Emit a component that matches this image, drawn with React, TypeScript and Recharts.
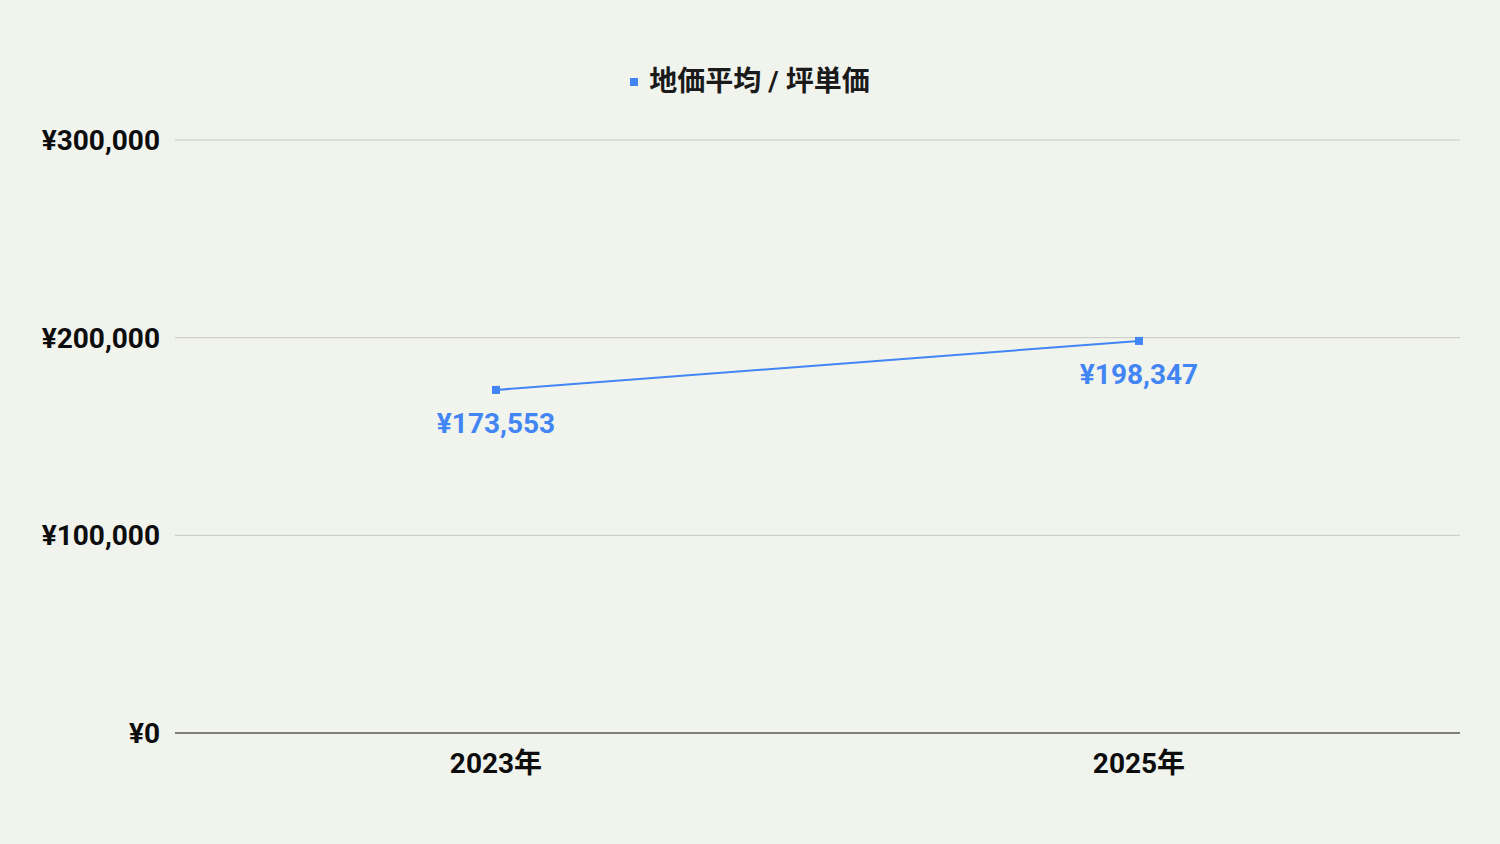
import React from "react";
import { LineChart, Line, XAxis, YAxis, CartesianGrid, Legend, LabelList } from "recharts";

const categories = ["2023年", "2025年"];
const values = [173553, 198347];
const yTicks = [0, 100000, 200000, 300000];
const seriesName = "地価平均 / 坪単価";

const data = categories.map((c, i) => ({ name: c, value: values[i] }));

const BLUE = "#4285f4";
const FONT = "Roboto, 'Noto Sans CJK JP', sans-serif";
const yen = (v: number) => "¥" + v.toLocaleString("en-US");

const SquareDot = (props: any) => {
  const { cx, cy } = props;
  if (cx == null || cy == null) return null;
  return <rect x={cx - 4} y={cy - 4} width={8} height={8} fill={BLUE} />;
};

const LegendContent = () => (
  <div style={{ display: "flex", alignItems: "center", justifyContent: "center", fontFamily: FONT }}>
    <span style={{ width: 8, height: 8, background: BLUE, display: "inline-block", marginRight: 11 }} />
    <span style={{ fontSize: 28, fontWeight: 700, color: "#1a1a1a", lineHeight: "36px" }}>{seriesName}</span>
  </div>
);

export default function App() {
  return (
    <div style={{ position: "fixed", left: 0, top: 0, width: 1500, height: 844, background: "#f1f3ed" }}>
      <LineChart width={1500} height={844} data={data} margin={{ top: 140, right: 40, bottom: 81, left: 0 }}>
        <CartesianGrid vertical={false} stroke="#c8c9c5" strokeWidth={1} />
        <XAxis
          dataKey="name"
          height={30}
          padding={{ left: 321, right: 321 }}
          axisLine={{ stroke: "#222", strokeWidth: 1 }}
          tickLine={false}
          tick={{ fill: "#0d0d0d", fontSize: 28, fontWeight: 700, fontFamily: FONT }}
          tickMargin={14}
        />
        <YAxis
          width={175}
          domain={[0, 300000]}
          ticks={yTicks}
          tickFormatter={yen}
          axisLine={false}
          tickLine={false}
          tick={{ fill: "#0d0d0d", fontSize: 28, fontWeight: 700, fontFamily: FONT }}
          tickMargin={9}
        />
        <Legend verticalAlign="middle" align="center" wrapperStyle={{ top: 64, left: 0, width: 1500 }} content={<LegendContent />} />
        <Line
          type="linear"
          dataKey="value"
          name={seriesName}
          stroke={BLUE}
          strokeWidth={2}
          dot={<SquareDot />}
          activeDot={false}
          isAnimationActive={false}
        >
          <LabelList
            dataKey="value"
            position="bottom"
            offset={23}
            formatter={(v: any) => yen(Number(v))}
            style={{ fill: BLUE, fontSize: 28, fontWeight: 700, fontFamily: FONT }}
          />
        </Line>
      </LineChart>
    </div>
  );
}
